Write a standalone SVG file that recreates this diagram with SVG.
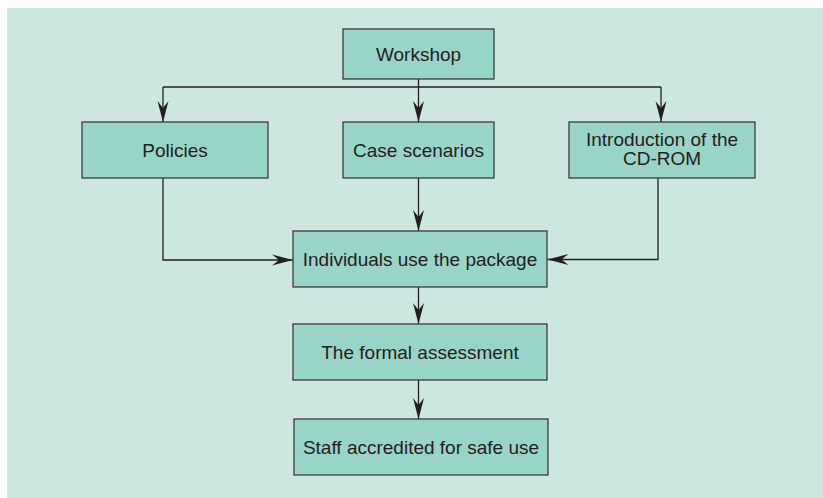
<svg xmlns="http://www.w3.org/2000/svg" width="823" height="498" viewBox="0 0 823 498">
  <style>
    .box { fill: #98d4c8; stroke: #3c3c3c; stroke-width: 1.3; }
    .lbl { font-family: "Liberation Sans", Arial, sans-serif; font-size: 19px; fill: #231f20; text-anchor: middle; }
    .wire { fill: none; stroke: #231f20; stroke-width: 1.3; }
  </style>
  <defs>
    <marker id="head" markerUnits="userSpaceOnUse" markerWidth="24" markerHeight="14" viewBox="-22 -7 24 14" refX="0" refY="0" orient="auto">
      <path d="M0,0 L-21,-5.5 L-14,0 L-21,5.5 Z" fill="#231f20"/>
    </marker>
  </defs>

  <!-- panel -->
  <rect x="7" y="8" width="816" height="490" fill="#cce7df"/>

  <!-- connectors -->
  <g id="connectors">
    <path class="wire" d="M418.5,79 V87"/>
    <path class="wire" d="M163,87 H661"/>
    <path class="wire" d="M163,87 V122" marker-end="url(#head)"/>
    <path class="wire" d="M418.5,87 V122" marker-end="url(#head)"/>
    <path class="wire" d="M661,87 V122" marker-end="url(#head)"/>
    <path class="wire" d="M163,178 V260 H293" marker-end="url(#head)"/>
    <path class="wire" d="M418.5,178 V231" marker-end="url(#head)"/>
    <path class="wire" d="M658,178 V259.5 H547.5" marker-end="url(#head)"/>
    <path class="wire" d="M418.5,287 V324" marker-end="url(#head)"/>
    <path class="wire" d="M418.5,380 V419" marker-end="url(#head)"/>
  </g>

  <g id="workshop">
    <rect class="box" x="343" y="29" width="151" height="50"/>
    <text class="lbl" x="418.5" y="60.5">Workshop</text>
  </g>
  <g id="policies">
    <rect class="box" x="82" y="122" width="186" height="56"/>
    <text class="lbl" x="175" y="156.5">Policies</text>
  </g>
  <g id="case-scenarios">
    <rect class="box" x="343" y="122" width="151" height="56"/>
    <text class="lbl" x="418.5" y="156.5">Case scenarios</text>
  </g>
  <g id="cd-rom">
    <rect class="box" x="569" y="122" width="186" height="56"/>
    <text class="lbl" x="662" y="145.5">Introduction of the</text>
    <text class="lbl" x="662" y="165">CD-ROM</text>
  </g>
  <g id="individuals">
    <rect class="box" x="293" y="231" width="254" height="56"/>
    <text class="lbl" x="420" y="265.5">Individuals use the package</text>
  </g>
  <g id="assessment">
    <rect class="box" x="293" y="324" width="254" height="56"/>
    <text class="lbl" x="420" y="358.5">The formal assessment</text>
  </g>
  <g id="accredited">
    <rect class="box" x="294" y="419" width="254" height="56"/>
    <text class="lbl" x="421" y="453.5">Staff accredited for safe use</text>
  </g>
</svg>
